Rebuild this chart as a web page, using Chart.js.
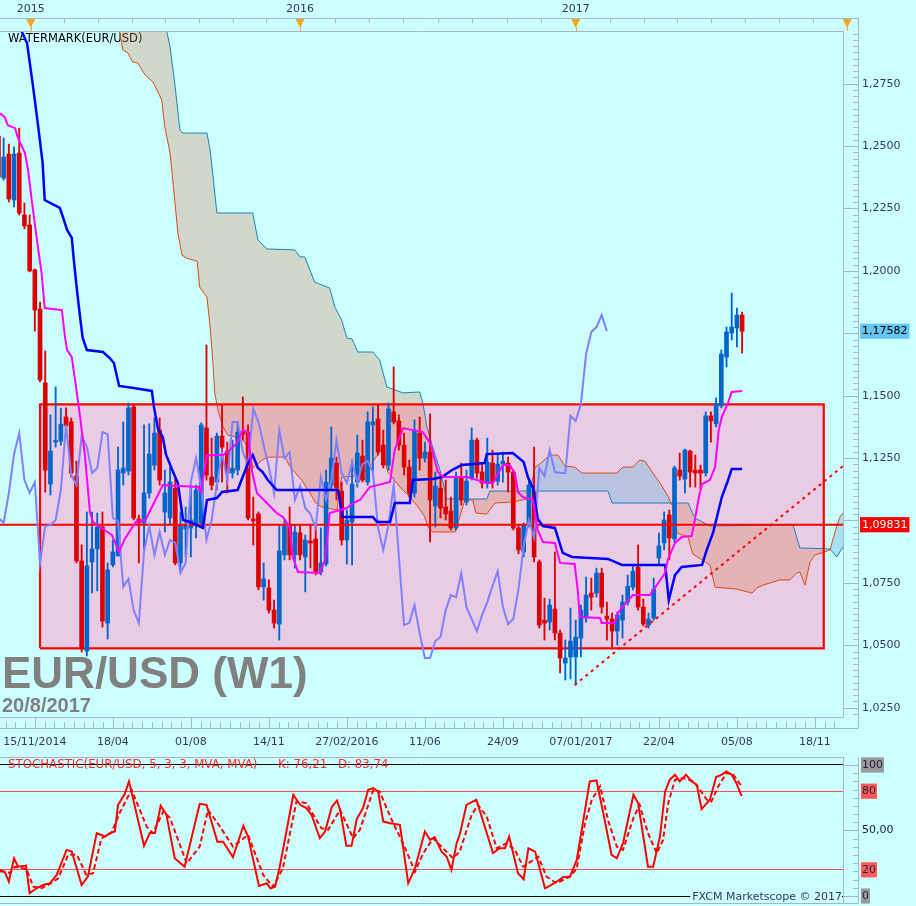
<!DOCTYPE html>
<html>
<head>
<meta charset="utf-8">
<title>EUR/USD (W1)</title>
<script src="https://cdn.jsdelivr.net/npm/chart.js@4.4.1/dist/chart.umd.min.js"></script>
<style>
  html, body { margin: 0; padding: 0; background: #ccffff; }
  #wrap { position: relative; width: 916px; height: 906px; overflow: hidden; }
  canvas { position: absolute; left: 0; }
  #main { top: 0; }
  #stoch { top: 757px; }
</style>
</head>
<body>
<div id="wrap">
  <canvas id="main" width="916" height="757"></canvas>
  <canvas id="stoch" width="916" height="149"></canvas>
</div>
<script>
// week index: 0 is the 07/01/2017 bar, one step per weekly candle
const firstWeek = -112;
const viewStart = -111.7;
const viewEnd = 50.4;

const opens = [
  1.2540, 1.2372, 1.2468, 1.2284, 1.2472, 1.2224, 1.2184, 1.2004, 1.1847, 1.1551,
  1.1146, 1.1314, 1.1318, 1.1415, 1.1395, 1.1178, 1.0838, 1.0477, 1.0834, 1.0886,
  1.0974, 1.0589, 1.0822, 1.0858, 1.1190, 1.1198, 1.1455, 1.1006, 1.0990, 1.1110,
  1.1222, 1.1362, 1.1034, 1.1010, 1.1130, 1.0830, 1.0966, 1.0970, 1.0982, 1.0990,
  1.1371, 1.1174, 1.1154, 1.1338, 1.1278, 1.1190, 1.1202, 1.1358, 1.1354, 1.1006,
  1.1026, 1.0734, 1.0730, 1.0641, 1.0585, 1.0862, 1.0982, 1.0862, 1.0950, 1.0854,
  1.0918, 1.0926, 1.0794, 1.0826, 1.1142, 1.1230, 1.1118, 1.0922, 1.0994, 1.1154,
  1.1258, 1.1154, 1.1383, 1.1407, 1.1302, 1.1222, 1.1435, 1.1399, 1.1302, 1.1214,
  1.1110, 1.1350, 1.1250, 1.1274, 1.1058, 1.1130, 1.1054, 1.1038, 1.0970, 1.1174,
  1.1074, 1.1170, 1.1322, 1.1194, 1.1150, 1.1230, 1.1158, 1.1226, 1.1230, 1.1194,
  1.0970, 1.0874, 1.0982, 1.1114, 1.0834, 1.0601, 1.0593, 1.0645, 1.0549, 1.0429,
  1.0453, 1.0453, 1.0529, 1.0609, 1.0709, 1.0709, 1.0789, 1.0617, 1.0605, 1.0557,
  1.0601, 1.0673, 1.0733, 1.0813, 1.0653, 1.0581, 1.0609, 1.0850, 1.0910, 1.1022,
  1.0926, 1.1202, 1.1166, 1.1278, 1.1202, 1.1202, 1.1190, 1.1419, 1.1387, 1.1459,
  1.1655, 1.1751, 1.1771, 1.1823
];
const highs = [
  1.2545, 1.2532, 1.2508, 1.2496, 1.2572, 1.2272, 1.2224, 1.2008, 1.1875, 1.1679,
  1.1423, 1.1535, 1.1450, 1.1451, 1.1411, 1.1238, 1.0902, 1.1034, 1.1034, 1.1030,
  1.1034, 1.0830, 1.0922, 1.1294, 1.1395, 1.1471, 1.1463, 1.1022, 1.1383, 1.1387,
  1.1411, 1.1411, 1.1202, 1.1214, 1.1170, 1.1034, 1.1054, 1.1134, 1.1142, 1.1391,
  1.1703, 1.1330, 1.1350, 1.1463, 1.1314, 1.1322, 1.1395, 1.1495, 1.1383, 1.1094,
  1.1034, 1.0830, 1.0762, 1.0681, 1.0978, 1.1002, 1.1054, 1.0982, 1.0982, 1.0942,
  1.0982, 1.0982, 1.0970, 1.1202, 1.1375, 1.1254, 1.1154, 1.1042, 1.1242, 1.1342,
  1.1322, 1.1435, 1.1455, 1.1463, 1.1362, 1.1471, 1.1615, 1.1423, 1.1350, 1.1242,
  1.1403, 1.1415, 1.1314, 1.1427, 1.1194, 1.1182, 1.1162, 1.1094, 1.1194, 1.1230,
  1.1202, 1.1371, 1.1330, 1.1230, 1.1330, 1.1282, 1.1262, 1.1274, 1.1254, 1.1202,
  1.0978, 1.0990, 1.1162, 1.1294, 1.0842, 1.0689, 1.0685, 1.0874, 1.0561, 1.0521,
  1.0649, 1.0601, 1.0661, 1.0773, 1.0769, 1.0809, 1.0809, 1.0673, 1.0629, 1.0633,
  1.0701, 1.0781, 1.0821, 1.0902, 1.0685, 1.0629, 1.0769, 1.0950, 1.1034, 1.1042,
  1.1218, 1.1270, 1.1286, 1.1282, 1.1262, 1.1222, 1.1435, 1.1435, 1.1491, 1.1683,
  1.1775, 1.1911, 1.1851, 1.1835
];
const lows = [
  1.2370, 1.2364, 1.2276, 1.2256, 1.2224, 1.2168, 1.1996, 1.1759, 1.1555, 1.1114,
  1.1102, 1.1294, 1.1302, 1.1363, 1.1174, 1.0830, 1.0473, 1.0457, 1.0710, 1.0718,
  1.0573, 1.0525, 1.0814, 1.0858, 1.1142, 1.1182, 1.1002, 1.0830, 1.0886, 1.1090,
  1.1202, 1.1142, 1.0954, 1.0982, 1.0822, 1.0794, 1.0854, 1.0854, 1.0930, 1.0974,
  1.1162, 1.1122, 1.1122, 1.1154, 1.1110, 1.1170, 1.1182, 1.1322, 1.1002, 1.0902,
  1.0722, 1.0681, 1.0629, 1.0569, 1.0521, 1.0842, 1.0842, 1.0810, 1.0842, 1.0714,
  1.0810, 1.0782, 1.0782, 1.0818, 1.1122, 1.1082, 1.0902, 1.0826, 1.0822, 1.1134,
  1.1154, 1.1142, 1.1182, 1.1262, 1.1210, 1.1202, 1.1387, 1.1282, 1.1182, 1.1094,
  1.1094, 1.1202, 1.1234, 1.0914, 1.0974, 1.1010, 1.1002, 1.0962, 1.0962, 1.1062,
  1.1062, 1.1162, 1.1170, 1.1130, 1.1130, 1.1130, 1.1142, 1.1154, 1.1114, 1.0962,
  1.0866, 1.0854, 1.0974, 1.0834, 1.0569, 1.0521, 1.0561, 1.0521, 1.0389, 1.0361,
  1.0365, 1.0341, 1.0453, 1.0593, 1.0641, 1.0693, 1.0629, 1.0521, 1.0493, 1.0501,
  1.0529, 1.0661, 1.0721, 1.0641, 1.0577, 1.0569, 1.0601, 1.0822, 1.0882, 1.0842,
  1.0914, 1.1162, 1.1110, 1.1134, 1.1134, 1.1126, 1.1178, 1.1314, 1.1375, 1.1451,
  1.1615, 1.1723, 1.1695, 1.1671
];
const closes = [
  1.2376, 1.2456, 1.2288, 1.2468, 1.2232, 1.2180, 1.2000, 1.1843, 1.1563, 1.1202,
  1.1278, 1.1320, 1.1386, 1.1379, 1.1190, 1.0838, 1.0485, 1.0818, 1.0886, 1.0974,
  1.0597, 1.0802, 1.0874, 1.1202, 1.1210, 1.1451, 1.1010, 1.0990, 1.1110, 1.1266,
  1.1350, 1.1162, 1.1110, 1.1154, 1.0830, 1.0978, 1.0982, 1.1002, 1.1122, 1.1383,
  1.1182, 1.1142, 1.1338, 1.1294, 1.1190, 1.1210, 1.1354, 1.1346, 1.1010, 1.0998,
  1.0734, 1.0766, 1.0641, 1.0589, 1.0878, 1.0978, 1.0862, 1.0954, 1.0862, 1.0922,
  1.0910, 1.0790, 1.0830, 1.1154, 1.1250, 1.1130, 1.0922, 1.1002, 1.1146, 1.1270,
  1.1162, 1.1395, 1.1395, 1.1274, 1.1222, 1.1447, 1.1395, 1.1302, 1.1214, 1.1110,
  1.1362, 1.1250, 1.1274, 1.1082, 1.1138, 1.1050, 1.1026, 1.0970, 1.1174, 1.1082,
  1.1158, 1.1322, 1.1190, 1.1150, 1.1234, 1.1154, 1.1226, 1.1238, 1.1194, 1.0970,
  1.0882, 1.0982, 1.1142, 1.0854, 1.0581, 1.0589, 1.0661, 1.0549, 1.0449, 1.0449,
  1.0517, 1.0533, 1.0641, 1.0701, 1.0693, 1.0789, 1.0653, 1.0605, 1.0557, 1.0621,
  1.0673, 1.0737, 1.0797, 1.0653, 1.0585, 1.0605, 1.0725, 1.0898, 1.1002, 1.0930,
  1.1210, 1.1178, 1.1282, 1.1194, 1.1190, 1.1190, 1.1419, 1.1399, 1.1467, 1.1667,
  1.1755, 1.1775, 1.1823, 1.17582
];

// ichimoku lines, [week, price] vertices
const tenkanLine = [
  [-111.7,1.2632],[-110.8,1.2616],[-110.2,1.2584],[-108.8,1.2572],[-108.3,1.2536],[-106.9,1.2472],[-106.3,1.2404],
  [-105.6,1.2284],[-104.6,1.2124],[-103.7,1.1991],[-103.1,1.1851],[-99.8,1.1843],[-99.2,1.1735],[-98.8,1.1683],
  [-97.9,1.1655],[-97.1,1.1539],[-96.3,1.1415],[-95.4,1.1266],[-94.4,1.1034],[-93.8,1.0994],[-91.9,1.0966],
  [-90.2,1.0942],[-88.8,1.0874],[-87.7,1.0926],[-85.6,1.0994],[-83.7,1.1002],[-82.3,1.1062],[-80.4,1.1142],
  [-73.6,1.1134],[-73.1,1.1114],[-71.9,1.1262],[-68.8,1.1262],[-67.5,1.1282],[-66.2,1.1310],[-65,1.1362],
  [-64,1.1354],[-63.3,1.1202],[-62.3,1.1110],[-60.4,1.1070],[-58.5,1.1030],[-57.3,1.1014],[-56,1.0974],
  [-55.4,1.0854],[-54.4,1.0794],[-50.2,1.0790],[-49.2,1.0842],[-48.3,1.1030],[-45,1.1050],[-43.8,1.1070],
  [-42.5,1.1082],[-40.6,1.1134],[-36.7,1.1154],[-35.8,1.1282],[-34.2,1.1370],[-30.4,1.1354],[-29,1.1310],
  [-28.5,1.1274],[-27.5,1.1194],[-26.5,1.1174],[-21.9,1.1174],[-18.1,1.1150],[-16.9,1.1150],[-15,1.1222],
  [-13.7,1.1222],[-12.7,1.1190],[-12.1,1.1114],[-11.2,1.1094],[-9.2,1.1082],[-8.3,1.0962],[-7.3,1.0914],
  [-5,1.0910],[-4,1.0830],[-1.2,1.0826],[-0.6,1.0721],[-0.2,1.0613],[3.7,1.0609],[4,1.0589],[6.5,1.0589],
  [7.1,1.0629],[8.8,1.0673],[10,1.0701],[13.3,1.0701],[14.2,1.0729],[16.2,1.0790],[16.7,1.0842],[18.1,1.0910],
  [19.4,1.0934],[21.3,1.0938],[21.9,1.1002],[22.7,1.1094],[23.3,1.1146],[24.8,1.1162],[25.8,1.1214],
  [26.5,1.1362],[27.1,1.1415],[28.3,1.1471],[29,1.1515],[31,1.1519]
];
const kijunLine = [
  [-108.5,1.3020],[-107.5,1.2957],[-106.5,1.2913],[-105.6,1.2777],[-105,1.2684],[-104.2,1.2552],[-103.5,1.2432],
  [-103.1,1.2284],[-100.2,1.2252],[-99.6,1.2216],[-98.8,1.2164],[-97.9,1.2132],[-97.5,1.2043],[-96.9,1.1923],
  [-96.3,1.1815],[-95.8,1.1731],[-95,1.1683],[-91.9,1.1675],[-90.6,1.1651],[-89.8,1.1631],[-88.8,1.1539],
  [-86,1.1531],[-82.5,1.1519],[-82.1,1.1455],[-81.3,1.1366],[-80.4,1.1334],[-79.8,1.1266],[-78.5,1.1198],
  [-77.5,1.1150],[-76.5,1.1002],[-75.2,1.0994],[-72.7,1.0970],[-71.9,1.1082],[-70,1.1090],[-69,1.1114],
  [-66,1.1122],[-64,1.1230],[-63.1,1.1262],[-62.1,1.1210],[-61.2,1.1194],[-60.2,1.1162],[-58.5,1.1122],
  [-46.7,1.1122],[-45.8,1.1014],[-40,1.1014],[-39.2,1.0994],[-36.7,1.0994],[-35.8,1.1070],[-32.9,1.1070],
  [-32.3,1.1162],[-28.5,1.1166],[-26.7,1.1174],[-24.8,1.1202],[-22.9,1.1222],[-18.5,1.1230],[-18.1,1.1266],
  [-13.1,1.1270],[-11,1.1234],[-10.2,1.1174],[-9.2,1.1130],[-8.3,1.1006],[-7.3,1.0978],[-5,1.0970],
  [-3.5,1.0870],[-1.7,1.0854],[5.2,1.0846],[7.9,1.0822],[16.2,1.0822],[16.9,1.0681],[18.1,1.0782],
  [19.4,1.0814],[23.3,1.0822],[24.2,1.0882],[25.4,1.0950],[27.1,1.1094],[28.1,1.1150],[29,1.1206],[31,1.1206]
];
const senkouA = [
  [-112,1.335],[-90,1.305],[-88.7,1.2957],[-88.1,1.2885],[-87.1,1.2873],[-86.2,1.2837],[-85.2,1.2833],
  [-83.8,1.2785],[-82.3,1.2757],[-81.3,1.2716],[-80.6,1.2684],[-80,1.2576],[-79,1.2472],[-78.1,1.2284],
  [-77.5,1.2152],[-76.7,1.2063],[-75.8,1.2051],[-73.8,1.2039],[-73.3,1.1935],[-71.9,1.1895],[-71.5,1.1815],
  [-71.2,1.1751],[-70.8,1.1643],[-70.4,1.1511],[-69.8,1.1443],[-68.8,1.1374],[-67.9,1.1342],[-65.2,1.1330],
  [-63.7,1.1282],[-63.1,1.1210],[-61.3,1.1242],[-60.2,1.1254],[-56.9,1.1254],[-56,1.1218],[-53.7,1.1162],
  [-52.1,1.1110],[-51,1.1070],[-49.8,1.1054],[-46.9,1.1042],[-46,1.1174],[-43.5,1.1178],[-41,1.1202],
  [-39.4,1.1254],[-38.3,1.1290],[-37.1,1.1194],[-34.8,1.1134],[-32.9,1.1094],[-31.3,1.1054],[-30,1.1014],
  [-29.4,1.0974],[-28.5,1.0954],[-24.2,1.0954],[-22.3,1.1082],[-20.8,1.1082],[-20.2,1.1030],[-18.1,1.1026],
  [-16.5,1.1070],[-13.1,1.1074],[-10.4,1.1086],[-9.4,1.1154],[-8.8,1.1214],[-7.9,1.1226],[-6,1.1262],
  [-4.4,1.1262],[-3.1,1.1218],[-1.2,1.1214],[0.2,1.1190],[6.9,1.1190],[8.1,1.1214],[10,1.1214],[11.3,1.1242],
  [12.3,1.1238],[13.7,1.1194],[15.2,1.1150],[16.7,1.1098],[17.7,1.1054],[18.5,1.0950],[20.6,1.0934],
  [21.5,1.0866],[23.3,1.0842],[24.8,1.0822],[25.8,1.0733],[30,1.0725],[32.9,1.0709],[33.8,1.0729],[35,1.0741],
  [38.3,1.0762],[40.2,1.0762],[41.5,1.0790],[42.1,1.0794],[43.1,1.0741],[44,1.0830],[45,1.0862],[46.3,1.0870],
  [47.9,1.0882],[48.8,1.0950],[49.8,1.1014],[50.4,1.1030]
];
const senkouB = [
  [-112,1.345],[-82,1.315],[-79.6,1.2957],[-79,1.2897],[-78.1,1.2752],[-77.1,1.2564],[-76.5,1.2552],
  [-71.9,1.2552],[-71.3,1.2484],[-70.8,1.2392],[-70,1.2232],[-63.1,1.2232],[-62.1,1.2124],[-60.4,1.2088],
  [-55,1.2084],[-54,1.2056],[-53.1,1.2056],[-51.2,1.1955],[-48.3,1.1931],[-47.3,1.1855],[-46,1.1803],
  [-45,1.1731],[-44,1.1727],[-42.9,1.1675],[-40,1.1675],[-38.7,1.1643],[-37.3,1.1535],[-34.2,1.1511],
  [-31,1.1515],[-30.4,1.1471],[-29.6,1.1375],[-28.5,1.1294],[-27.1,1.1202],[-25.8,1.1086],[-18.1,1.1086],
  [-17.5,1.1118],[5.2,1.1118],[6,1.1070],[20.6,1.1070],[21.9,1.1010],[24.8,1.0978],[40.8,1.0982],
  [42.1,1.0890],[47.9,1.0886],[49.2,1.0854],[50.4,1.0894]
];
const chikouShift = 26;

// drawn objects: range box [fromWeek, toWeek, low, high], level, trend line
const rangeBox = [-104, 46.7, 1.0488, 1.1465];
const levelPrice = 1.09831;
const trendLine = [[-1.2, 1.0341], [50.4, 1.1218]];

// stochastic (5,3,3): %K and %D vertices
const kLine = [
  [-111.7,19.4],[-110.8,18.6],[-110,10.9],[-109,28.8],[-108.2,22.4],[-106.7,23.2],[-106,2.1],[-104.7,5.9],
  [-103.4,8.4],[-102.1,9.7],[-100.8,16.1],[-98.9,35.2],[-97.9,33.9],[-96,8.4],[-94.8,14.8],[-93.1,48],
  [-91.5,45.4],[-90.6,48],[-89.6,49.2],[-89,69.6],[-87.7,78],[-86.9,87.5],[-84,38.3],[-82.9,48],[-81.9,48],
  [-80.8,68.9],[-79.7,62],[-78.1,28.8],[-76.2,22.4],[-73.3,70.4],[-72,69.6],[-69.9,41.5],[-68.8,41.5],
  [-66.9,29.6],[-64.9,53.6],[-64,45.4],[-61.9,7.7],[-60.4,9.7],[-59.7,5.9],[-58.8,7.1],[-57.9,22.4],
  [-55.3,77.3],[-54,69.6],[-52.8,67.1],[-51.8,62],[-50.2,44.1],[-49.2,49.2],[-47.9,67.9],[-46.9,72.9],
  [-46.3,65.8],[-45.1,38.3],[-44.1,38.3],[-43.1,58.7],[-41.9,67.1],[-40.9,81.1],[-39.9,82.4],[-39,79.8],
  [-38,56.8],[-36.7,55.6],[-34.8,54.3],[-33.2,9.7],[-31.9,21.2],[-30,49.2],[-29,42.8],[-28.1,44.9],
  [-26.8,33.9],[-25.8,30],[-24.9,19.9],[-23.9,40.3],[-23.3,46.7],[-22,69.6],[-20.1,73.5],[-16.9,32.7],
  [-15.6,36.5],[-14.6,36.5],[-13.8,45.4],[-12.1,17.4],[-11,12.8],[-10.1,36.5],[-8.8,33.9],[-6.9,5.9],
  [-6,7.7],[-4.7,10.9],[-3.4,14.3],[-2.1,14.8],[-0.8,27.5],[1.7,87.5],[3,88.2],[4.3,63.3],[5.9,31.4],
  [6.9,28.8],[8.1,40.3],[10.1,77.3],[11,70.9],[12.9,22.4],[13.9,22.4],[15.2,45.4],[16.2,79.8],[17.1,88.8],
  [18.1,92.6],[19,87.5],[20.2,92.6],[21.3,87.5],[22.3,84.9],[23.2,66.3],[24.8,73.5],[26,90.8],[27.1,92.6],
  [28,95.1],[29,92.6],[29.9,86.2],[30.9,76.21]
];
const dLine = [
  [-111.7,19],[-109.8,17.7],[-108.8,22.4],[-106.6,20.4],[-105.3,7.1],[-103.7,5.9],[-102.1,9.2],[-100.5,13.5],
  [-98.6,31.4],[-96.9,31.4],[-95.1,16.1],[-93.8,17.4],[-92.2,44.1],[-90.3,48],[-88.7,63.3],[-86.4,81.1],
  [-83.5,53],[-82.3,48],[-80.3,64.5],[-79,59.5],[-75.8,25],[-73.3,37.7],[-71.7,65.8],[-69.4,53],[-66.9,37.7],
  [-64,46.7],[-61.1,16.1],[-59.2,7.1],[-57.3,21.1],[-54.7,72.1],[-52.8,70.9],[-49.9,51.8],[-48.6,50.5],
  [-46.3,65.8],[-43.8,44.1],[-42.5,50.5],[-39.9,81.1],[-38.7,79.8],[-36.1,55.6],[-34.2,40.3],[-31.9,18.6],
  [-30.3,32.7],[-28.4,44.1],[-26.5,36.5],[-24.6,28.8],[-23.3,33.9],[-21,62],[-19.8,69.6],[-18.1,60.6],
  [-16.2,36.5],[-14.3,40.3],[-12.7,35.2],[-11.1,22.4],[-8.2,30],[-6.6,14.8],[-4.7,9.7],[-2.1,14.8],
  [-0.8,21.1],[0.8,55.6],[2.1,73.5],[3.7,83.6],[5.3,56.8],[6.9,37.7],[8.1,35.2],[10.1,59.5],[11.3,69.6],
  [12.9,48],[14.6,32.6],[15.8,42.8],[16.8,70.9],[18.1,88.8],[19.7,90],[21.6,87.5],[22.9,81.1],[24.2,73.5],
  [25.1,72.1],[26.4,83.6],[28,93.9],[29.3,92.6],[30.9,83.74]
];

// axes
const dateTickWeeks = [-105, -90, -75, -60, -45, -30, -15, 0, 15, 30, 45];
const dateTickLabels = ['15/11/2014', '18/04', '01/08', '14/11', '27/02/2016', '11/06', '24/09', '07/01/2017', '22/04', '05/08', '18/11'];
const yearWeeks = [-105.8, -54, -1, 51.2];
const yearLabels = ['2015', '2016', '2017', '2018'];
const priceTicks = [1.025, 1.05, 1.075, 1.125, 1.15, 1.2, 1.225, 1.25, 1.275];
const lastPrice = 1.17582;
const stochTicks = [0, 20, 50, 80, 100];
const stochText = ['STOCHASTIC(EUR/USD, 5, 3, 3, MVA, MVA)', 'K: 76,21', 'D: 83,74'];

const BG = '#ccffff';
const AXIS = '#a9b5c1';
const LABEL = '#363660';
const UP = '#0066cc';
const DOWN = '#dd0000';

Chart.defaults.font.family = '"DejaVu Sans", Verdana, sans-serif';
Chart.defaults.font.size = 11;

const weeks = opens.map((_, i) => firstWeek + i);
const pts = arr => arr.map(([x, y]) => ({x, y}));
const candleColors = weeks.map((_, i) => closes[i] >= opens[i] ? UP : DOWN);

function seg(ctx, x1, y1, x2, y2) {
  ctx.beginPath(); ctx.moveTo(x1, y1); ctx.lineTo(x2, y2); ctx.stroke();
}
const px = v => Math.round(v) + 0.5;

function lineSet(data, color, width, order, extra) {
  return Object.assign({
    type: 'line', data, borderColor: color, borderWidth: width, pointRadius: 0,
    pointHoverRadius: 0, tension: 0, fill: false, order
  }, extra || {});
}

const datasets = [];
datasets.push(lineSet([{x: rangeBox[0], y: rangeBox[3]}, {x: rangeBox[1], y: rangeBox[3]}],
  'rgba(0,0,0,0)', 1, 20, {fill: {value: rangeBox[2]}, backgroundColor: 'rgba(255,160,205,0.55)'}));
const idxA = datasets.length;
datasets.push(lineSet(pts(senkouA), '#e04a10', 1, 18));
datasets.push(lineSet(pts(senkouB), '#1a82c0', 1, 19, {
  fill: {target: idxA, above: 'rgba(218,119,77,0.29)', below: 'rgba(120,185,225,0.42)'}
}));
datasets.push(lineSet([
  {x: rangeBox[0], y: rangeBox[2]}, {x: rangeBox[0], y: rangeBox[3]}, {x: rangeBox[1], y: rangeBox[3]},
  {x: rangeBox[1], y: rangeBox[2]}, {x: rangeBox[0], y: rangeBox[2]}
], '#ff0000', 2.2, 17));
datasets.push({
  type: 'bar', data: weeks.map((w, i) => ({x: w, y: [lows[i], highs[i]]})),
  backgroundColor: candleColors, barThickness: 1.2, grouped: false, borderWidth: 0, order: 16
});
datasets.push({
  type: 'bar', data: weeks.map((w, i) => ({x: w, y: [Math.min(opens[i], closes[i]), Math.max(opens[i], closes[i])]})),
  backgroundColor: candleColors, barThickness: 4, grouped: false, borderWidth: 0, minBarLength: 1.5, order: 15
});
datasets.push(lineSet([{x: viewStart, y: levelPrice}, {x: viewEnd, y: levelPrice}], '#ff0000', 2, 14));
datasets.push(lineSet(weeks.map((w, i) => ({x: w - chikouShift, y: closes[i]})), '#8080ff', 2, 13));
datasets.push(lineSet(pts(kijunLine), '#0000ff', 2.5, 12));
datasets.push(lineSet(pts(tenkanLine), '#ff00ff', 2, 11));
datasets.push(lineSet(pts(trendLine), '#ff0000', 2, 10, {borderDash: [3, 4]}));

const mainDecor = {
  id: 'mainDecor',
  beforeDraw(chart) {
    const {ctx, width, height} = chart;
    ctx.save(); ctx.fillStyle = BG; ctx.fillRect(0, 0, width, height); ctx.restore();
  },
  beforeDatasetsDraw(chart) {
    const {ctx, chartArea: a} = chart;
    ctx.save();
    ctx.fillStyle = '#808080';
    ctx.textBaseline = 'alphabetic';
    ctx.font = 'bold 44px "Liberation Sans", Arial, sans-serif';
    ctx.fillText('EUR/USD (W1)', a.left + 2, a.bottom - 29);
    ctx.font = 'bold 20px "Liberation Sans", Arial, sans-serif';
    ctx.fillText('20/8/2017', a.left + 2, a.bottom - 5);
    ctx.fillStyle = '#000000';
    ctx.textBaseline = 'middle';
    ctx.font = '11.5px "DejaVu Sans", Verdana, sans-serif';
    ctx.fillText('WATERMARK(EUR/USD)', a.left + 8, a.top + 8);
    ctx.restore();
  },
  afterDraw(chart) {
    const {ctx, chartArea: a} = chart;
    const xs = chart.scales.x, ys = chart.scales.y;
    const R = a.right + 15, T = a.top - 13, B = a.bottom + 11;
    ctx.save();
    ctx.strokeStyle = AXIS; ctx.lineWidth = 1;
    seg(ctx, 0, px(T), px(R), px(T));
    seg(ctx, 0, px(a.top), px(a.right), px(a.top));
    seg(ctx, px(a.right), a.top, px(a.right), a.bottom);
    seg(ctx, px(R), T, px(R), B);
    seg(ctx, 0, px(a.bottom), px(a.right), px(a.bottom));
    seg(ctx, 0, px(B), px(R), px(B));
    // top strip: eight divisions per year
    for (let i = 0; i < yearWeeks.length - 1; i++) {
      const step = (yearWeeks[i + 1] - yearWeeks[i]) / 8;
      for (let j = 1; j < 8; j++) {
        const x = xs.getPixelForValue(yearWeeks[i] + j * step);
        if (x < a.right) seg(ctx, px(x), T, px(x), T + 5);
      }
    }
    // date strip
    const dStep = (dateTickWeeks[1] - dateTickWeeks[0]) / 8;
    for (let n = -8; dateTickWeeks[0] + n * dStep <= xs.max; n++) {
      const w = dateTickWeeks[0] + n * dStep;
      if (w < xs.min) continue;
      const x = px(xs.getPixelForValue(w));
      seg(ctx, x, n % 8 === 0 ? a.bottom : B - 6, x, B);
    }
    // price strip
    for (let n = Math.ceil(ys.min / 0.0025); n * 0.0025 <= ys.max; n++) {
      const y = px(ys.getPixelForValue(n * 0.0025));
      seg(ctx, n % 10 === 0 ? a.right : R - 5, y, R, y);
    }
    // year markers
    ctx.fillStyle = '#f5a623'; ctx.strokeStyle = '#f5a623';
    yearWeeks.forEach(w => {
      const x = xs.getPixelForValue(w);
      ctx.beginPath();
      ctx.moveTo(x - 4.5, T + 1); ctx.lineTo(x + 4.5, T + 1); ctx.lineTo(x, T + 10);
      ctx.closePath(); ctx.fill();
      seg(ctx, px(x), T + 9, px(x), a.top);
    });
    ctx.restore();
  }
};

const priceLabel = v => v === lastPrice || v === levelPrice ? v.toFixed(5).replace('.', ',') : v.toFixed(4).replace('.', ',');

new Chart(document.getElementById('main'), {
  type: 'line',
  data: {datasets},
  options: {
    responsive: false, animation: false, devicePixelRatio: 1, events: [],
    layout: {padding: 0},
    plugins: {legend: {display: false}, tooltip: {enabled: false}},
    scales: {
      x: {
        type: 'linear', position: 'bottom', min: viewStart, max: viewEnd, offset: false,
        grid: {display: false, drawTicks: false}, border: {display: false},
        afterBuildTicks: s => { s.ticks = dateTickWeeks.map(v => ({value: v})); },
        afterFit: s => { s.height = 40; s.paddingLeft = 0; s.paddingRight = 0; },
        ticks: {
          autoSkip: false, maxRotation: 0, padding: 19, color: LABEL,
          callback: v => dateTickLabels[dateTickWeeks.indexOf(v)]
        }
      },
      xTop: {
        type: 'linear', position: 'top', min: viewStart, max: viewEnd, offset: false,
        grid: {display: false, drawTicks: false}, border: {display: false},
        afterBuildTicks: s => { s.ticks = yearWeeks.filter(v => v >= viewStart && v <= viewEnd).map(v => ({value: v})); },
        afterFit: s => { s.height = 31; s.paddingLeft = 0; s.paddingRight = 0; },
        ticks: {
          autoSkip: false, maxRotation: 0, padding: 15, color: LABEL,
          callback: v => yearLabels[yearWeeks.indexOf(v)]
        }
      },
      y: {
        type: 'linear', position: 'right', min: 1.02127, max: 1.29611,
        grid: {display: false, drawTicks: false}, border: {display: false},
        afterBuildTicks: s => {
          s.ticks = priceTicks.concat([levelPrice, lastPrice]).sort((a, b) => a - b).map(v => ({value: v}));
        },
        afterFit: s => { s.width = 73; s.paddingTop = 0; s.paddingBottom = 0; },
        ticks: {
          autoSkip: false, padding: 19,
          callback: v => priceLabel(v),
          color: c => c.tick.value === levelPrice ? '#ccffff' : (c.tick.value === lastPrice ? '#000000' : LABEL),
          showLabelBackdrop: true,
          backdropPadding: {top: 1, bottom: 1, left: 2, right: 2},
          backdropColor: c => c.tick.value === levelPrice ? '#ff0000' : (c.tick.value === lastPrice ? '#66c6f2' : 'rgba(0,0,0,0)')
        }
      }
    }
  },
  plugins: [mainDecor]
});

// stochastic pane
const stochDecor = {
  id: 'stochDecor',
  beforeDraw(chart) {
    const {ctx, width, height} = chart;
    ctx.save(); ctx.fillStyle = BG; ctx.fillRect(0, 0, width, height); ctx.restore();
  },
  afterDraw(chart) {
    const {ctx, chartArea: a} = chart;
    const ys = chart.scales.y;
    const R = a.right + 15;
    ctx.save();
    ctx.strokeStyle = AXIS; ctx.lineWidth = 1;
    seg(ctx, 0, px(a.top), px(a.right), px(a.top));
    seg(ctx, px(a.right), a.top, px(a.right), a.bottom);
    seg(ctx, px(R), a.top, px(R), a.bottom);
    seg(ctx, 0, px(a.bottom), px(R), px(a.bottom));
    for (let n = Math.ceil(ys.min / 6.25); n * 6.25 <= ys.max; n++) {
      const y = px(ys.getPixelForValue(n * 6.25));
      seg(ctx, n % 8 === 0 ? a.right : R - 5, y, R, y);
    }
    ctx.font = '11.8px "DejaVu Sans", Verdana, sans-serif';
    ctx.textBaseline = 'middle';
    ctx.fillStyle = '#ff2a2a';
    const ty = ys.getPixelForValue(100);
    ctx.fillText(stochText[0], a.left + 8, ty);
    ctx.fillText(stochText[1], a.left + 278, ty);
    ctx.fillText(stochText[2], a.left + 338, ty);
    const credit = 'FXCM Marketscope \u00a9 2017';
    ctx.font = '11px "DejaVu Sans", Verdana, sans-serif';
    const w = ctx.measureText(credit).width;
    const cy = ys.getPixelForValue(0) + 1;
    ctx.fillStyle = BG;
    ctx.fillRect(a.right - w - 3, cy - 6, w + 2, 12);
    ctx.fillStyle = LABEL;
    ctx.textAlign = 'right';
    ctx.fillText(credit, a.right - 1, cy);
    ctx.restore();
  }
};

const levelColor = v => (v === 0 || v === 100) ? '#000000' : (v === 20 || v === 80 ? '#ff5050' : 'rgba(0,0,0,0)');

new Chart(document.getElementById('stoch'), {
  type: 'line',
  data: {
    datasets: [
      lineSet(pts(kLine), '#ff0000', 2, 1),
      lineSet(pts(dLine), '#ff0000', 2, 2, {borderDash: [5, 3]})
    ]
  },
  options: {
    responsive: false, animation: false, devicePixelRatio: 1, events: [],
    layout: {padding: {top: 0, bottom: 3, left: 0, right: 0}},
    plugins: {legend: {display: false}, tooltip: {enabled: false}},
    scales: {
      x: {type: 'linear', display: false, min: viewStart, max: viewEnd, offset: false},
      y: {
        type: 'linear', position: 'right', min: -5.34, max: 106.1,
        grid: {drawOnChartArea: true, drawTicks: false, color: c => levelColor(c.tick.value), lineWidth: 1},
        border: {display: false},
        afterBuildTicks: s => { s.ticks = stochTicks.map(v => ({value: v})); },
        afterFit: s => { s.width = 73; s.paddingTop = 0; s.paddingBottom = 0; },
        ticks: {
          autoSkip: false, padding: 19, color: '#202040',
          callback: v => v === 50 ? '50,00' : String(v),
          showLabelBackdrop: true,
          backdropPadding: {top: 1, bottom: 1, left: 1, right: 1},
          backdropColor: c => (c.tick.value === 0 || c.tick.value === 100) ? '#9a9a9a' : (c.tick.value === 50 ? 'rgba(0,0,0,0)' : '#ff5a5a')
        }
      }
    }
  },
  plugins: [stochDecor]
});
</script>
</body>
</html>
